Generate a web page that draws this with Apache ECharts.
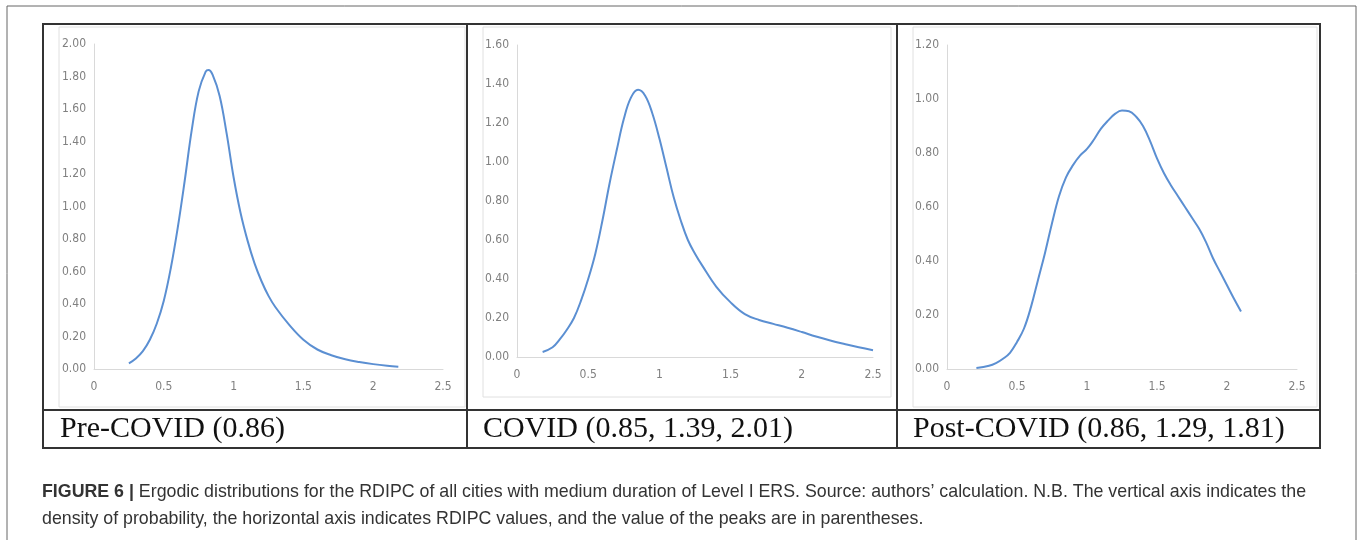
<!DOCTYPE html>
<html>
<head>
<meta charset="utf-8">
<script src="https://cdn.jsdelivr.net/npm/echarts@6/dist/echarts.min.js"></script>
<style>
  html, body { margin: 0; padding: 0; background: #fff; }
  #main { width: 1360px; height: 540px; }
</style>
</head>
<body>
<div id="main"></div>
<script>
  // x ticks shared by the three panels
  var xTicks = [0, 0.5, 1, 1.5, 2, 2.5]

  // Pre-COVID
  var preX = [0.25, 0.30, 0.35, 0.40, 0.45, 0.50, 0.55, 0.60, 0.65, 0.70, 0.75, 0.80, 0.82, 0.85, 0.90, 0.95, 1.00, 1.05, 1.10, 1.15, 1.20, 1.25, 1.30, 1.40, 1.50, 1.60, 1.70, 1.80, 1.90, 2.00, 2.10, 2.18]
  var preY = [0.035, 0.065, 0.11, 0.18, 0.28, 0.42, 0.62, 0.87, 1.16, 1.47, 1.71, 1.83, 1.84, 1.81, 1.68, 1.45, 1.18, 0.96, 0.79, 0.65, 0.54, 0.45, 0.38, 0.27, 0.18, 0.12, 0.085, 0.06, 0.043, 0.03, 0.02, 0.014]

  // COVID
  var covidX = [0.18, 0.25, 0.30, 0.35, 0.40, 0.45, 0.50, 0.55, 0.60, 0.65, 0.70, 0.75, 0.80, 0.85, 0.90, 0.95, 1.00, 1.05, 1.10, 1.15, 1.20, 1.25, 1.30, 1.40, 1.50, 1.60, 1.70, 1.80, 1.90, 2.00, 2.10, 2.20, 2.30, 2.40, 2.50]
  var covidY = [0.026, 0.05, 0.09, 0.14, 0.20, 0.29, 0.40, 0.53, 0.70, 0.89, 1.06, 1.22, 1.33, 1.37, 1.34, 1.25, 1.12, 0.97, 0.82, 0.70, 0.60, 0.53, 0.47, 0.36, 0.28, 0.22, 0.19, 0.17, 0.15, 0.128, 0.105, 0.085, 0.067, 0.05, 0.035]

  // Post-COVID
  var postX = [0.21, 0.30, 0.35, 0.40, 0.45, 0.50, 0.55, 0.60, 0.65, 0.70, 0.75, 0.80, 0.85, 0.90, 0.95, 1.00, 1.05, 1.10, 1.15, 1.20, 1.25, 1.30, 1.35, 1.40, 1.45, 1.50, 1.55, 1.60, 1.65, 1.70, 1.75, 1.80, 1.85, 1.90, 1.95, 2.00, 2.05, 2.10]
  var postY = [0.004, 0.012, 0.022, 0.038, 0.06, 0.10, 0.15, 0.23, 0.33, 0.43, 0.54, 0.64, 0.71, 0.755, 0.79, 0.815, 0.85, 0.89, 0.92, 0.945, 0.957, 0.955, 0.935, 0.90, 0.845, 0.78, 0.725, 0.68, 0.64, 0.60, 0.56, 0.52, 0.47, 0.41, 0.36, 0.31, 0.26, 0.213]

  var yMax = [2, 1.6, 1.2]
  var labels = ['Pre-COVID (0.86)', 'COVID (0.85, 1.39, 2.01)', 'Post-COVID (0.86, 1.29, 1.81)']
  var captionBold = 'FIGURE 6 |'
  var captionLine1 = ' Ergodic distributions for the RDIPC of all cities with medium duration of Level I ERS. Source: authors\u2019 calculation. N.B. The vertical axis indicates the'
  var captionLine2 = 'density of probability, the horizontal axis indicates RDIPC values, and the value of the peaks are in parentheses.'

  function zip (xs, ys) {
    return xs.map(function (x, i) { return [x, ys[i]] })
  }

  var tickFont = '"Liberation Sans Narrow", "DejaVu Sans Condensed", "Liberation Sans", sans-serif'
  var grids = [
    { left: 94, top: 44, width: 349, height: 325 },
    { left: 517, top: 45, width: 356, height: 312 },
    { left: 947, top: 45, width: 350, height: 324 }
  ]

  var xAxes = grids.map(function (g, i) {
    return {
      type: 'value', gridIndex: i, min: 0, max: 2.5, interval: 0.5,
      axisLine: { lineStyle: { color: '#d9d9d9', width: 1 } },
      axisTick: { show: false },
      splitLine: { show: false },
      axisLabel: { color: '#808080', fontSize: 12, fontFamily: tickFont, margin: 12 }
    }
  })
  var yAxes = grids.map(function (g, i) {
    return {
      type: 'value', gridIndex: i, min: 0, max: yMax[i], interval: 0.2,
      axisLine: { show: true, lineStyle: { color: '#d9d9d9', width: 1 } },
      axisTick: { show: false },
      splitLine: { show: false },
      axisLabel: {
        color: '#808080', fontSize: 12, fontFamily: tickFont, margin: 8,
        formatter: function (v) { return v.toFixed(2) }
      }
    }
  })

  var lineSeries = [zip(preX, preY), zip(covidX, covidY), zip(postX, postY)].map(function (d, i) {
    return {
      type: 'line', xAxisIndex: i, yAxisIndex: i, data: d,
      smooth: 0.4, showSymbol: false,
      lineStyle: { color: '#5b8fd2', width: 2 }
    }
  })

  // borders of the figure table and chart areas
  var tableLine = { stroke: '#333', lineWidth: 2, fill: null }
  var chartAreas = [[59, 27, 406, 380], [483, 27, 408, 370], [913, 27, 404, 380]]
  var labelX = [60, 483, 913]
  var captionFont = '17.8px "Liberation Sans", Arial, sans-serif'

  var graphic = [
    { type: 'rect', shape: { x: 7, y: 6, width: 1349, height: 560 }, style: { stroke: '#666', lineWidth: 1, fill: null }, silent: true },
    { type: 'rect', shape: { x: 43, y: 24, width: 1277, height: 424 }, style: tableLine, silent: true },
    { type: 'line', shape: { x1: 43, y1: 410, x2: 1320, y2: 410 }, style: tableLine, silent: true },
    { type: 'line', shape: { x1: 467, y1: 24, x2: 467, y2: 448 }, style: tableLine, silent: true },
    { type: 'line', shape: { x1: 897, y1: 24, x2: 897, y2: 448 }, style: tableLine, silent: true }
  ]
  chartAreas.forEach(function (r) {
    graphic.push({ type: 'rect', z: -1, shape: { x: r[0], y: r[1], width: r[2], height: r[3] }, style: { stroke: '#e0e0e0', lineWidth: 1, fill: null }, silent: true })
  })
  labels.forEach(function (t, i) {
    graphic.push({
      type: 'text', left: labelX[i], top: 414,
      style: { text: t, font: '30px "Liberation Serif", "Times New Roman", serif', fill: '#111' }
    })
  })
  graphic.push({
    type: 'text', left: 42, top: 483,
    style: {
      text: '{b|' + captionBold + '}' + captionLine1,
      font: captionFont, fill: '#333',
      rich: { b: { font: 'bold ' + captionFont, fill: '#333' } }
    }
  })
  graphic.push({
    type: 'text', left: 42, top: 510,
    style: { text: captionLine2, font: captionFont, fill: '#333' }
  })

  var myChart = echarts.init(document.getElementById('main'))
  myChart.setOption({
    animation: false,
    grid: grids,
    xAxis: xAxes,
    yAxis: yAxes,
    series: lineSeries,
    graphic: graphic
  })
</script>
</body>
</html>
